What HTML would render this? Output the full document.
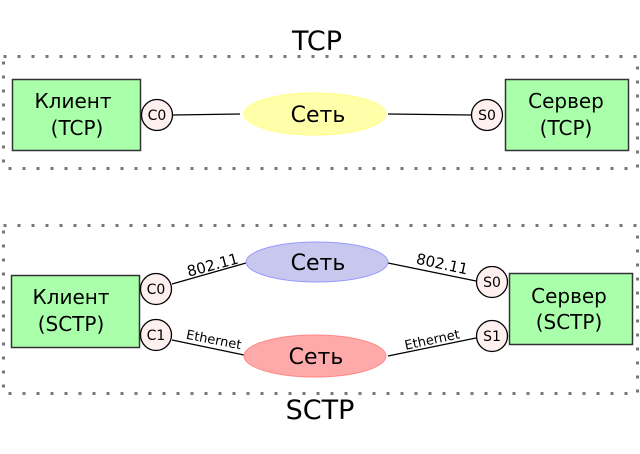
<!DOCTYPE html>
<html><head><meta charset="utf-8"><style>html,body{margin:0;padding:0;background:#fff}svg{display:block}</style></head>
<body>
<svg width="640" height="454" viewBox="0 0 640 454" xmlns="http://www.w3.org/2000/svg" font-family="DejaVu Sans, Liberation Sans, sans-serif">
<g fill="none" stroke="#777" stroke-width="3" stroke-dasharray="3,11">
<rect x="3.5" y="56.5" width="634" height="112"/>
<rect x="3.5" y="225.5" width="634" height="168"/>
</g>
<text x="317" y="50" font-size="27" text-anchor="middle">TCP</text>
<text x="320" y="419" font-size="27" text-anchor="middle">SCTP</text>
<g stroke="#000" stroke-width="1.2">
<line x1="173" y1="115" x2="240" y2="114"/>
<line x1="388" y1="114" x2="472" y2="115"/>
<line x1="172" y1="284" x2="246" y2="263"/>
<line x1="388" y1="263" x2="476" y2="281"/>
<line x1="172" y1="340" x2="244" y2="355"/>
<line x1="388" y1="356" x2="476" y2="338"/>
</g>
<g fill="#aaffaa" stroke="#333" stroke-width="1.5">
<rect x="12.5" y="79.5" width="128" height="71"/>
<rect x="505.5" y="79.5" width="123" height="71"/>
<rect x="11.5" y="275.5" width="128" height="72"/>
<rect x="509.5" y="273.5" width="123" height="71"/>
</g>
<ellipse cx="315" cy="114" rx="71" ry="21" fill="#ffffaa" stroke="#ffff88"/>
<ellipse cx="317" cy="262" rx="71" ry="20" fill="#c8c8ee" stroke="#9999ff"/>
<ellipse cx="315" cy="356" rx="71" ry="21" fill="#ffaaaa" stroke="#ff8888"/>
<g fill="#000" font-size="22" text-anchor="middle">
<text x="318" y="122">Сеть</text>
<text x="318" y="270">Сеть</text>
<text x="316" y="364">Сеть</text>
</g>
<g fill="#000" font-size="20" text-anchor="middle">
<text x="73" y="108">Клиент</text><text x="77" y="135">(TCP)</text>
<text x="566" y="108">Сервер</text><text x="566" y="135">(TCP)</text>
<text x="71" y="304">Клиент</text><text x="71" y="331">(SCTP)</text>
<text x="569" y="303">Сервер</text><text x="569" y="329">(SCTP)</text>
</g>
<g fill="#fff0f0" stroke="#000" stroke-width="1.3">
<circle cx="157" cy="115" r="15.5"/>
<circle cx="487" cy="115" r="15.5"/>
<circle cx="156" cy="289" r="15.5"/>
<circle cx="156" cy="335" r="15.5"/>
<circle cx="492" cy="282" r="15.5"/>
<circle cx="492" cy="336" r="15.5"/>
</g>
<g font-size="14" text-anchor="middle" fill="#000">
<text x="157" y="120">C0</text>
<text x="487" y="120">S0</text>
<text x="156" y="294">C0</text>
<text x="156" y="340">C1</text>
<text x="492" y="287">S0</text>
<text x="492" y="341">S1</text>
</g>
<g font-size="15" fill="#000" text-anchor="middle">
<text transform="translate(214,270) rotate(-15)">802.11</text>
<text transform="translate(441,269) rotate(12)">802.11</text>
</g>
<g font-size="13" fill="#000" text-anchor="middle">
<text transform="translate(213,344) rotate(11)">Ethernet</text>
<text transform="translate(433,344) rotate(-12)">Ethernet</text>
</g>
</svg>
</body></html>
